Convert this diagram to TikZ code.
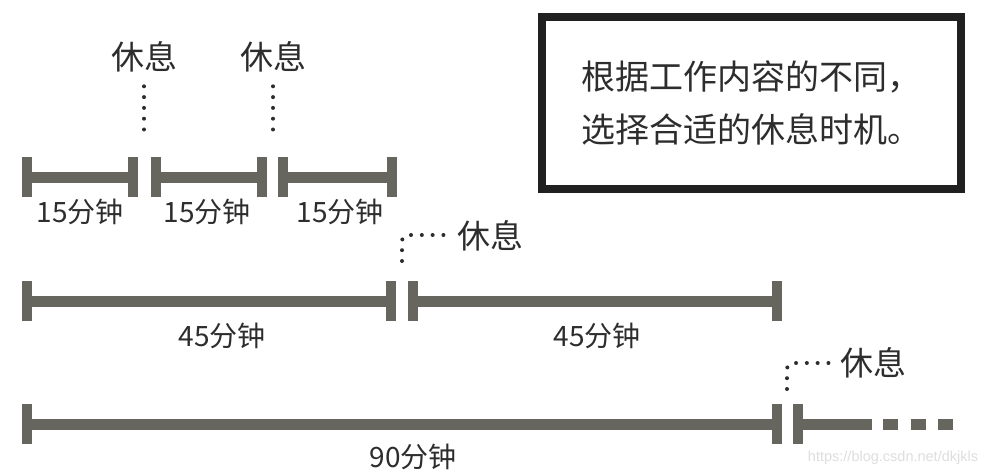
\documentclass[tikz,border=0pt]{standalone}
\usepackage{fontspec}
\setmainfont{Noto Sans CJK SC}
\newfontfamily\wmfont{Liberation Sans}
\definecolor{barcol}{RGB}{102,101,94}
\definecolor{txt}{RGB}{45,45,45}
\definecolor{boxcol}{RGB}{32,32,32}
\definecolor{wm}{RGB}{222,222,222}
\begin{document}
\begin{tikzpicture}[x=1pt,y=-1pt,
  endcap/.style={rectangle, fill=barcol, minimum width=10pt, minimum height=40pt, inner sep=0pt},
  bar/.style={draw=barcol, line width=11pt},
  dashbar/.style={draw=barcol, line width=11pt, dash pattern=on 15pt off 12.5pt},
  dur/.style={font=\fontsize{28}{34}\selectfont, text=txt, inner sep=0pt},
  rest/.style={font=\fontsize{33}{40}\selectfont, text=txt, inner sep=0pt},
  dotline/.style={draw=txt, line width=4pt, line cap=round, dash pattern=on 0pt off 10.8pt},
  msgbox/.style={draw=boxcol, line width=8pt, minimum width=419pt, minimum height=172pt,
    align=left, text=txt, font=\fontsize{34}{53}\selectfont, inner sep=0pt}]
\useasboundingbox[fill=white] (0,0) rectangle (996,476);

% row 1
\node[endcap] (a1) at (27,177) {};
\node[endcap] (a2) at (133,177) {};
\node[endcap] (a3) at (155.5,177) {};
\node[endcap] (a4) at (262,177) {};
\node[endcap] (a5) at (283,177) {};
\node[endcap] (a6) at (392,177) {};
\draw[bar] (a1.center) -- (a2.center);
\draw[bar] (a3.center) -- (a4.center);
\draw[bar] (a5.center) -- (a6.center);
\node[dur] (l1) at (80,212) {15分钟};
\node[dur] (l2) at (207,212) {15分钟};
\node[dur] (l3) at (340,212) {15分钟};
\node[rest] (r1) at (144,57) {休息};
\node[rest] (r2) at (273,57) {休息};
\coordinate (d1a) at (144,129.5);
\coordinate (d1b) at (144,85);
\coordinate (d2a) at (273,129.5);
\coordinate (d2b) at (273,85);
\draw[dotline] (d1a) -- (d1b);
\draw[dotline] (d2a) -- (d2b);

% row 2
\node[endcap] (b1) at (27,301) {};
\node[endcap] (b2) at (391,301) {};
\node[endcap] (b3) at (412.5,301) {};
\node[endcap] (b4) at (777,301) {};
\draw[bar] (b1.center) -- (b2.center);
\draw[bar] (b3.center) -- (b4.center);
\node[dur] (m1) at (222,336) {45分钟};
\node[dur] (m2) at (597,336) {45分钟};
\node[rest] (r3) at (490,236) {休息};
\coordinate (e1a) at (402,261);
\coordinate (e1b) at (444,235);
\draw[dotline, rounded corners=6pt] (e1a) |- (e1b);

% row 3
\node[endcap] (c1) at (27,424) {};
\node[endcap] (c2) at (777,424) {};
\node[endcap] (c3) at (798,424) {};
\coordinate (c4) at (872,424);
\coordinate (c5) at (883,424);
\coordinate (c6) at (953,424);
\draw[bar] (c1.center) -- (c2.center);
\draw[bar] (c3.center) -- (c4);
\draw[dashbar] (c5) -- (c6);
\node[dur] (n1) at (413,457) {90分钟};
\node[rest] (r4) at (873,363) {休息};
\coordinate (f1a) at (787,389);
\coordinate (f1b) at (829,363);
\draw[dotline, rounded corners=6pt] (f1a) |- (f1b);

% message box
\node[msgbox] (box) at (751.5,103) {根据工作内容的不同，\\选择合适的休息时机。};

% watermark
\node[font=\wmfont\fontsize{14.5}{16}\selectfont, text=wm, inner sep=0pt] (wmk) at (893,458) {https://blog.csdn.net/dkjkls};
\end{tikzpicture}
\end{document}
